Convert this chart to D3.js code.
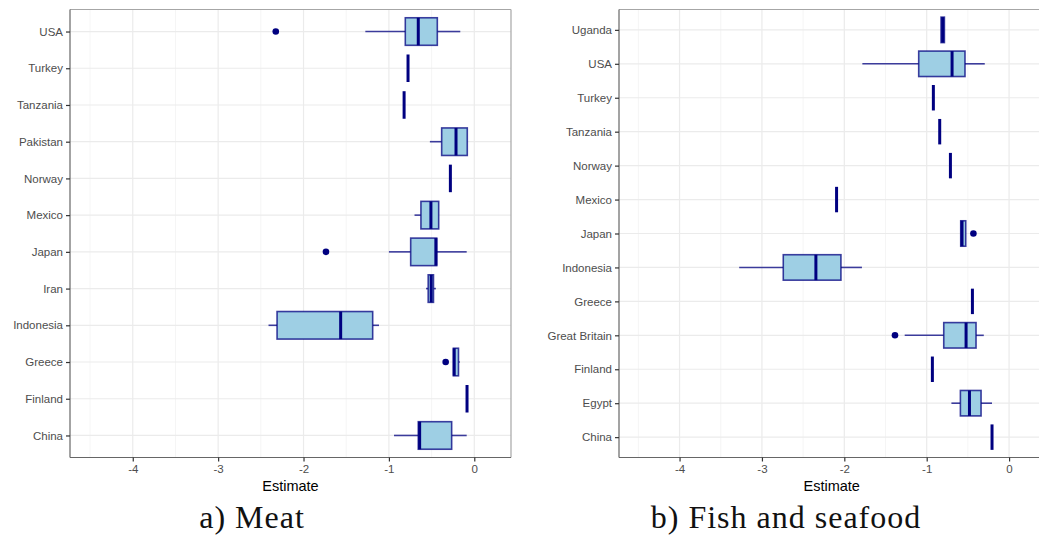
<!DOCTYPE html>
<html>
<head>
<meta charset="utf-8">
<script src="https://cdn.jsdelivr.net/npm/d3@7"></script>
<style>
  body { margin: 0; background: #fff; }
  svg { display: block; }
</style>
</head>
<body>
<script>
// data (bottom category first)
var meatCountries = ["China", "Finland", "Greece", "Indonesia", "Iran", "Japan", "Mexico", "Norway", "Pakistan", "Tanzania", "Turkey", "USA"];
var meatLow  = [-0.94, -0.085, -0.245, -2.41, -0.565, -1.00, -0.70, -0.28, -0.52, -0.822, -0.776, -1.276];
var meatQ1   = [-0.656, -0.085, -0.245, -2.31, -0.54, -0.745, -0.625, -0.28, -0.382, -0.822, -0.776, -0.808];
var meatMed  = [-0.64, -0.085, -0.235, -1.565, -0.505, -0.45, -0.508, -0.28, -0.214, -0.822, -0.776, -0.656];
var meatQ3   = [-0.265, -0.085, -0.185, -1.19, -0.478, -0.44, -0.417, -0.28, -0.082, -0.822, -0.776, -0.433];
var meatHigh = [-0.089, -0.085, -0.17, -1.116, -0.45, -0.089, -0.417, -0.28, -0.082, -0.822, -0.776, -0.164];
var meatOutliers = [[], [], [-0.335], [], [], [-1.737], [], [], [], [], [], [-2.325]];

var fishCountries = ["China", "Egypt", "Finland", "Great Britain", "Greece", "Indonesia", "Japan", "Mexico", "Norway", "Tanzania", "Turkey", "USA", "Uganda"];
var fishLow  = [-0.207, -0.70, -0.931, -1.267, -0.445, -3.276, -0.587, -2.094, -0.712, -0.842, -0.919, -1.781, -0.826];
var fishQ1   = [-0.207, -0.591, -0.931, -0.793, -0.445, -2.741, -0.587, -2.094, -0.712, -0.842, -0.919, -1.097, -0.826];
var fishMed  = [-0.207, -0.481, -0.931, -0.522, -0.445, -2.345, -0.571, -2.094, -0.712, -0.842, -0.919, -0.692, -0.806];
var fishQ3   = [-0.207, -0.34, -0.931, -0.401, -0.445, -2.041, -0.526, -2.094, -0.712, -0.842, -0.919, -0.535, -0.785];
var fishHigh = [-0.207, -0.207, -0.931, -0.307, -0.445, -1.786, -0.526, -2.094, -0.712, -0.842, -0.919, -0.295, -0.785];
var fishOutliers = [[], [], [], [-1.385], [], [], [-0.433], [], [], [], [], [], []];

var xDomain = [-4.735, 0.43];
var majorTicks = [-4, -3, -2, -1, 0];
var minorTicks = [-4.5, -3.5, -2.5, -1.5, -0.5];
var xTitle = "Estimate";

var width = 1039;
var height = 538;

var svg = d3.select("body")
  .append("svg")
  .attr("width", width)
  .attr("height", height);

function drawPanel(cfg) {
  var top = 9.5, bottom = 457.5;

  var x = d3.scaleLinear().domain(xDomain).range([cfg.left, cfg.right]);
  var y = d3.scalePoint().domain(cfg.cats).range([bottom, top]).padding(0.6);
  var boxH = y.step() * 0.75;

  var g = svg.append("g");

  // panel background + gridlines
  g.append("rect")
    .attr("x", cfg.left).attr("y", top)
    .attr("width", cfg.right - cfg.left).attr("height", bottom - top)
    .attr("fill", "#fff");

  g.selectAll(".minor")
    .data(minorTicks)
    .enter().append("line")
    .attr("x1", d => x(d)).attr("x2", d => x(d))
    .attr("y1", top).attr("y2", bottom)
    .attr("stroke", "#f2f2f2").attr("stroke-width", 0.8);

  g.selectAll(".major")
    .data(majorTicks)
    .enter().append("line")
    .attr("x1", d => x(d)).attr("x2", d => x(d))
    .attr("y1", top).attr("y2", bottom)
    .attr("stroke", "#ebebeb").attr("stroke-width", 1.2);

  g.selectAll(".hgrid")
    .data(cfg.cats)
    .enter().append("line")
    .attr("x1", cfg.left).attr("x2", cfg.right)
    .attr("y1", d => y(d)).attr("y2", d => y(d))
    .attr("stroke", "#ebebeb").attr("stroke-width", 1.2);

  var rows = cfg.cats.map(function(c, i) {
    return { cat: c, low: cfg.low[i], q1: cfg.q1[i], med: cfg.med[i], q3: cfg.q3[i], high: cfg.high[i], out: cfg.out[i] };
  });

  var boxStroke = "rgba(0,0,128,0.75)";

  var b = g.selectAll(".box")
    .data(rows)
    .enter().append("g");

  // whiskers
  b.append("line")
    .attr("x1", d => x(d.low)).attr("x2", d => x(d.q1))
    .attr("y1", d => y(d.cat)).attr("y2", d => y(d.cat))
    .attr("stroke", boxStroke).attr("stroke-width", 1.6);
  b.append("line")
    .attr("x1", d => x(d.q3)).attr("x2", d => x(d.high))
    .attr("y1", d => y(d.cat)).attr("y2", d => y(d.cat))
    .attr("stroke", boxStroke).attr("stroke-width", 1.6);

  // box
  b.append("rect")
    .attr("x", d => x(d.q1))
    .attr("y", d => y(d.cat) - boxH / 2)
    .attr("width", d => x(d.q3) - x(d.q1))
    .attr("height", boxH)
    .attr("fill", "#9ecfe4")
    .attr("stroke", boxStroke)
    .attr("stroke-width", 1.6);

  // median
  b.append("line")
    .attr("x1", d => x(d.med)).attr("x2", d => x(d.med))
    .attr("y1", d => y(d.cat) - boxH / 2).attr("y2", d => y(d.cat) + boxH / 2)
    .attr("stroke", "#000080").attr("stroke-width", 3);

  // outliers
  b.selectAll("circle")
    .data(d => d.out.map(v => ({ v: v, cat: d.cat })))
    .enter().append("circle")
    .attr("cx", d => x(d.v)).attr("cy", d => y(d.cat))
    .attr("r", 3.3)
    .attr("fill", "#000080");

  // border: lighter top/right, darker axis lines
  g.append("line")
    .attr("x1", cfg.left).attr("x2", cfg.right).attr("y1", top).attr("y2", top)
    .attr("stroke", "#a6a6a6").attr("stroke-width", 1.2);
  g.append("line")
    .attr("x1", cfg.right).attr("x2", cfg.right).attr("y1", top).attr("y2", bottom)
    .attr("stroke", "#a6a6a6").attr("stroke-width", 1.2);

  // axes
  var xAxis = d3.axisBottom(x).tickValues(majorTicks).tickSize(4).tickPadding(3)
    .tickFormat(d3.format("d"));
  var ax = g.append("g").attr("transform", "translate(0," + bottom + ")").call(xAxis);
  ax.select(".domain").attr("stroke", "#666").attr("stroke-width", 1.2)
    .attr("d", "M" + cfg.left + ",0H" + cfg.right);
  ax.selectAll(".tick line").attr("stroke", "#333").attr("stroke-width", 1.2);
  ax.selectAll(".tick text")
    .attr("fill", "#4d4d4d")
    .style("font-family", "Liberation Sans, Arial, sans-serif")
    .style("font-size", "11.5px")
    .text(d => d < 0 ? "-" + Math.abs(d) : d);

  var yAxis = d3.axisLeft(y).tickSize(4).tickPadding(3);
  var ay = g.append("g").attr("transform", "translate(" + cfg.left + ",0)").call(yAxis);
  ay.select(".domain").attr("stroke", "#666").attr("stroke-width", 1.2)
    .attr("d", "M0," + top + "V" + bottom);
  ay.selectAll(".tick line").attr("stroke", "#333").attr("stroke-width", 1.2);
  ay.selectAll(".tick text")
    .attr("fill", "#4d4d4d")
    .style("font-family", "Liberation Sans, Arial, sans-serif")
    .style("font-size", "11.5px");

  // axis title
  g.append("text")
    .attr("x", (cfg.left + cfg.right) / 2)
    .attr("y", 491)
    .attr("text-anchor", "middle")
    .attr("fill", "#000")
    .style("font-family", "Liberation Sans, Arial, sans-serif")
    .style("font-size", "14.5px")
    .text(xTitle);

  // caption
  g.append("text")
    .attr("x", cfg.captionX)
    .attr("y", 528)
    .attr("text-anchor", "middle")
    .attr("fill", "#111")
    .style("font-family", "Liberation Serif, Times New Roman, serif")
    .style("font-size", "32px")
    .style("letter-spacing", "1px")
    .text(cfg.caption);
}

drawPanel({
  cats: meatCountries, low: meatLow, q1: meatQ1, med: meatMed, q3: meatQ3, high: meatHigh, out: meatOutliers,
  left: 70, right: 511, caption: "a) Meat", captionX: 252
});

drawPanel({
  cats: fishCountries, low: fishLow, q1: fishQ1, med: fishMed, q3: fishQ3, high: fishHigh, out: fishOutliers,
  left: 619, right: 1044.5, caption: "b) Fish and seafood", captionX: 786
});
</script>
</body>
</html>
